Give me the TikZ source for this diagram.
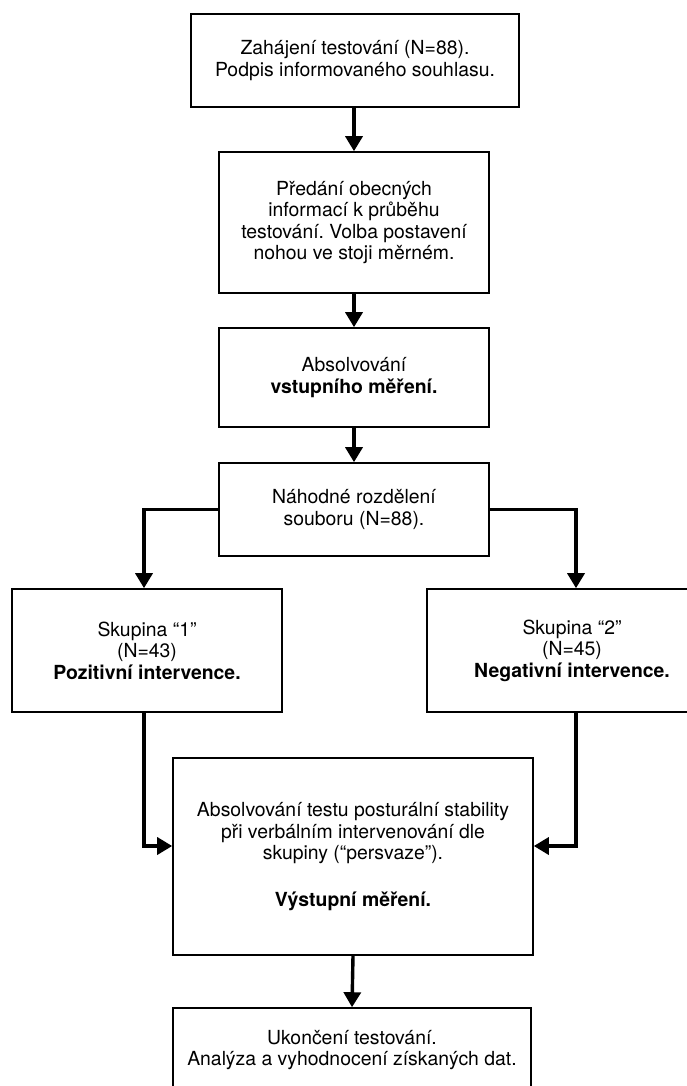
\documentclass[tikz,border=0pt]{standalone}
\usepackage{fontspec}
\setmainfont{TeX Gyre Heros}
\usetikzlibrary{arrows.meta}
\frenchspacing
\begin{document}
\begin{tikzpicture}[x=1pt,y=-1pt,
  box/.style={draw, line width=1.6pt, align=center, inner sep=0pt,
    font=\fontsize{19.4}{21.5}\selectfont},
  arr/.style={line width=3.4pt, -{Triangle[length=15pt,width=17pt]}}]
\useasboundingbox (0,0) rectangle (686,1086);
\node[box, minimum width=328pt, minimum height=93pt] (b1) at (355,60.5)
  {Zahájení testování (N=88).\\Podpis informovaného souhlasu.};
\node[box, minimum width=270pt, minimum height=141pt] (b2) at (354,222.5)
  {Předání obecných\\informací k průběhu\\testování. Volba postavení\\nohou ve stoji měrném.};
\node[box, minimum width=270pt, minimum height=99pt] (b3) at (354,377.5)
  {Absolvování\\\textbf{vstupního měření.}};
\node[box, minimum width=270pt, minimum height=93pt] (b4) at (354,509.5)
  {Náhodné rozdělení\\souboru (N=88).};
\node[box, minimum width=270pt, minimum height=123pt] (gl) at (147,650.5)
  {Skupina “1”\\(N=43)\\\textbf{Pozitivní intervence.}};
\node[box, minimum width=290pt, minimum height=123pt] (gr) at (572,650.5)
  {Skupina “2”\\(N=45)\\\textbf{Negativní intervence.}};
\node[box, minimum width=360pt, minimum height=197pt] (big) at (353,856.5)
  {Absolvování testu posturální stability\\při verbálním intervenování dle\\skupiny (“persvaze”).\\[25pt]\textbf{Výstupní měření.}};
\node[box, minimum width=358pt, minimum height=84pt] (end) at (352,1050)
  {Ukončení testování.\\Analýza a vyhodnocení získaných dat.};
\coordinate (lx) at (144,0);
\coordinate (rx) at (576,0);
\coordinate (ay) at (0,846);
\draw[arr] (b1.south -| b2) -- (b2.north);
\draw[arr] (b2.south) -- (b3.north);
\draw[arr] (b3.south) -- (b4.north);
\draw[arr] (b4.west) -| (lx |- gl.north);
\draw[arr] (b4.east) -| (rx |- gr.north);
\draw[arr] (lx |- gl.south) |- (big.west |- ay);
\draw[arr] (rx |- gr.south) |- (big.east |- ay);
\draw[arr] (big.south) -- (end.north);
\end{tikzpicture}
\end{document}
